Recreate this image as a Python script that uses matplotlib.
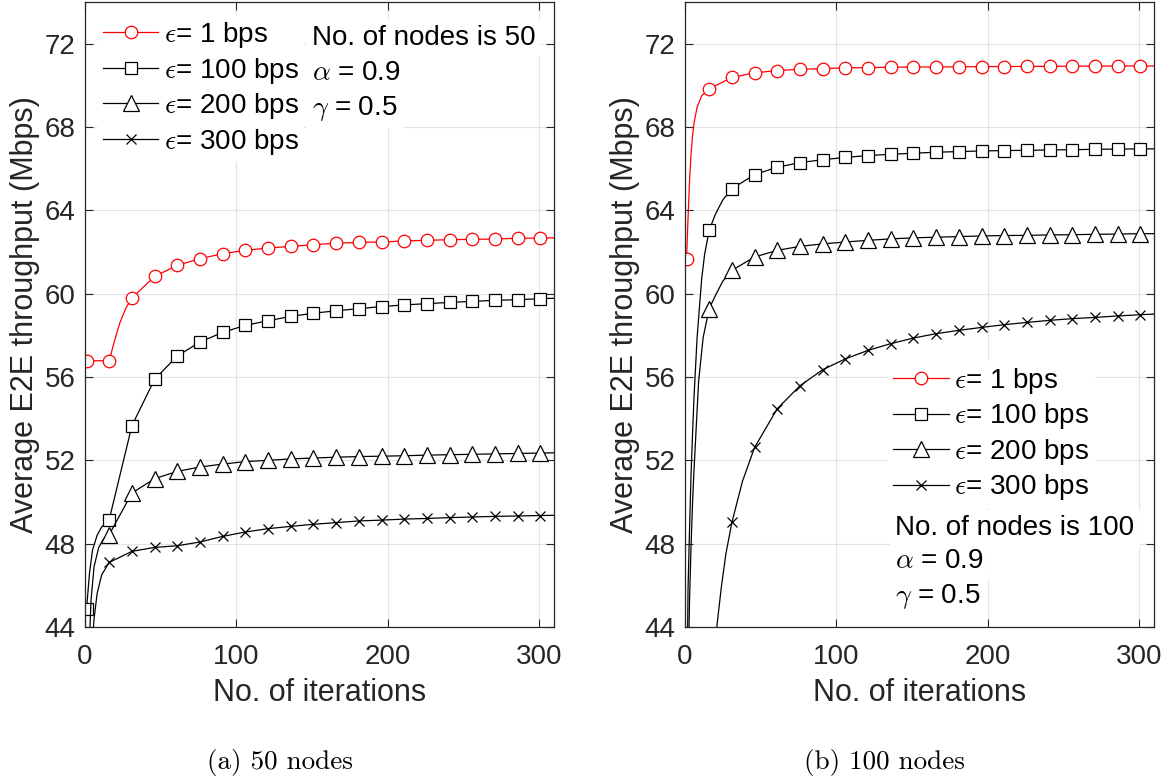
import matplotlib
matplotlib.use("Agg")
import matplotlib.pyplot as plt

plt.rcParams['font.family'] = ['Liberation Sans', 'DejaVu Sans']
plt.rcParams['mathtext.fontset'] = 'cm'

# iterations where markers are drawn
marker_iters = [1, 16, 31, 46, 61, 76, 91, 106, 121, 136, 151, 166, 181, 196, 211, 226, 241, 256, 271, 286, 301]

labels = [r'$\epsilon$= 1 bps', r'$\epsilon$= 100 bps', r'$\epsilon$= 200 bps', r'$\epsilon$= 300 bps']

# 50 nodes: values at marker iterations + extra points
n50_eps1 = [56.78, 56.78, 59.79, 60.83, 61.36, 61.68, 61.92, 62.08, 62.19, 62.27, 62.35,
            62.42, 62.46, 62.48, 62.53, 62.56, 62.59, 62.61, 62.62, 62.66, 62.67]
n50_eps1_extra = {19: 57.6, 23: 58.6, 27: 59.3, 310: 62.68}
n50_eps100 = [44.86, 49.15, 53.66, 55.89, 57.01, 57.68, 58.14, 58.48, 58.70, 58.91, 59.06,
              59.18, 59.28, 59.38, 59.46, 59.52, 59.58, 59.63, 59.68, 59.71, 59.76]
n50_eps100_extra = {3: 46.6, 5: 47.7, 8: 48.4, 11: 48.8, 310: 59.78}
n50_eps200 = [37.0, 48.43, 50.43, 51.12, 51.47, 51.68, 51.82, 51.94, 52.00, 52.07, 52.11,
              52.15, 52.18, 52.20, 52.22, 52.25, 52.27, 52.29, 52.31, 52.33, 52.35]
n50_eps200_extra = {3: 43.5, 4: 45.3, 6: 46.9, 9: 47.8, 12: 48.2, 310: 52.36}
n50_eps300 = [32.0, 47.10, 47.63, 47.82, 47.90, 48.08, 48.35, 48.56, 48.72, 48.83, 48.93,
              49.01, 49.09, 49.13, 49.18, 49.21, 49.25, 49.28, 49.31, 49.33, 49.35]
n50_eps300_extra = {4: 42.5, 6: 44.4, 8: 45.6, 11: 46.5, 310: 49.36}

# 100 nodes
n100_eps1 = [61.68, 69.83, 70.38, 70.60, 70.71, 70.77, 70.80, 70.84, 70.85, 70.87, 70.88,
             70.88, 70.89, 70.90, 70.90, 70.91, 70.91, 70.92, 70.92, 70.93, 70.93]
n100_eps1_extra = {2: 63.6, 3: 65.4, 4: 66.7, 5: 67.6, 6: 68.2, 8: 68.95, 11: 69.5, 310: 70.93}
n100_eps100 = [38.0, 63.04, 65.04, 65.71, 66.07, 66.29, 66.43, 66.54, 66.63, 66.69, 66.74,
               66.79, 66.82, 66.85, 66.87, 66.88, 66.90, 66.91, 66.93, 66.94, 66.95]
n100_eps100_extra = {2: 45.8, 3: 48.7, 4: 51.3, 5: 53.3, 6: 55.1, 8: 57.9, 11: 60.7, 13: 61.9,
                     20: 63.8, 25: 64.5, 310: 66.95}
n100_eps200 = [36.0, 59.28, 61.12, 61.76, 62.08, 62.27, 62.39, 62.48, 62.56, 62.63, 62.68,
               62.71, 62.74, 62.77, 62.79, 62.80, 62.82, 62.83, 62.85, 62.86, 62.88]
n100_eps200_extra = {2: 41.5, 3: 45.3, 4: 47.9, 5: 50.0, 6: 51.6, 7: 53.0, 9: 55.8, 12: 57.9,
                     20: 59.9, 25: 60.6, 310: 62.88}
n100_eps300 = [25.0, 40.5, 49.02, 52.62, 54.48, 55.58, 56.35, 56.87, 57.28, 57.60, 57.87,
               58.08, 58.24, 58.38, 58.51, 58.62, 58.72, 58.80, 58.86, 58.93, 58.99]
n100_eps300_extra = {21: 44.0, 24: 45.9, 27: 47.5, 38: 51.0, 310: 59.02}

yticks = [44, 48, 52, 56, 60, 64, 68, 72]
xticks = [0, 100, 200, 300]

styles = [('red', 'o', 9), ('black', 's', 8.5), ('black', '^', 11), ('black', 'x', 7)]
TXT = '#262626'


def series(marker_vals, extra):
    pts = dict(zip(marker_iters, marker_vals))
    pts.update(extra)
    xs = sorted(pts)
    ys = [pts[x] for x in xs]
    idx = [xs.index(m) for m in marker_iters]
    return xs, ys, idx


def draw(ax, data):
    for (vals, extra), (c, m, ms), lab in zip(data, styles, labels):
        xs, ys, idx = series(vals, extra)
        ax.plot(xs, ys, color=c, lw=0.9, marker=m, markevery=idx, ms=ms,
                mfc='white', mec=c, mew=0.9, label=lab)
    ax.set_xlim(0, 310)
    ax.set_ylim(44, 74)
    ax.set_xticks(xticks)
    ax.set_yticks(yticks)
    ax.set_axisbelow(True)
    ax.grid(True, color='#e3e3e3', lw=0.8)
    ax.tick_params(direction='in', top=True, right=True, length=6, width=0.8,
                   labelsize=20, colors=TXT)
    ax.tick_params(axis='x', pad=12)
    ax.tick_params(axis='y', pad=7)
    for s in ax.spines.values():
        s.set_color(TXT)
        s.set_linewidth(0.9)
    ax.set_xlabel('No. of iterations', fontsize=22, color=TXT, labelpad=6)
    ax.set_ylabel('Average E2E throughput (Mbps)', fontsize=22, color=TXT, labelpad=3)


fig = plt.figure(figsize=(11.71, 7.8), dpi=100)
W, H = 1171, 780
ax1 = fig.add_axes([85 / W, (H - 627) / H, 469 / W, 625 / H])
ax2 = fig.add_axes([685 / W, (H - 627) / H, 469 / W, 625 / H])

draw(ax1, [(n50_eps1, n50_eps1_extra), (n50_eps100, n50_eps100_extra),
           (n50_eps200, n50_eps200_extra), (n50_eps300, n50_eps300_extra)])
draw(ax2, [(n100_eps1, n100_eps1_extra), (n100_eps100, n100_eps100_extra),
           (n100_eps200, n100_eps200_extra), (n100_eps300, n100_eps300_extra)])

leg_kw = dict(fontsize=20, handlelength=2.0, handletextpad=0.2, labelspacing=0.2,
              borderpad=0.2, borderaxespad=0, frameon=True, fancybox=False,
              facecolor='white', edgecolor='none', framealpha=1, numpoints=1)
ax1.legend(loc='upper left', bbox_to_anchor=(0.026, 0.98), **leg_kw)
ax2.legend(loc='upper left', bbox_to_anchor=(0.432, 0.427), **leg_kw)

box = dict(boxstyle='square,pad=0.2', fc='white', ec='none')
for ax, x0, ys, n in [(ax1, 0.484, [0.931, 0.875, 0.819], 50),
                      (ax2, 0.448, [0.147, 0.0944, 0.0384], 100)]:
    rows = ['No. of nodes is %d' % n, r'$\alpha$ = 0.9', r'$\gamma$ = 0.5']
    for y, t in zip(ys, rows):
        ax.text(x0, y, t, transform=ax.transAxes, fontsize=20, color='black',
                va='baseline', ha='left', bbox=box)

fig.text(280 / W, 1 - 762 / H, '(a) 50 nodes', ha='center', va='center',
         family='cmr10', fontsize=19.5)
fig.text(884 / W, 1 - 762 / H, '(b) 100 nodes', ha='center', va='center',
         family='cmr10', fontsize=19.5)

fig.savefig('out.png', dpi=100)
